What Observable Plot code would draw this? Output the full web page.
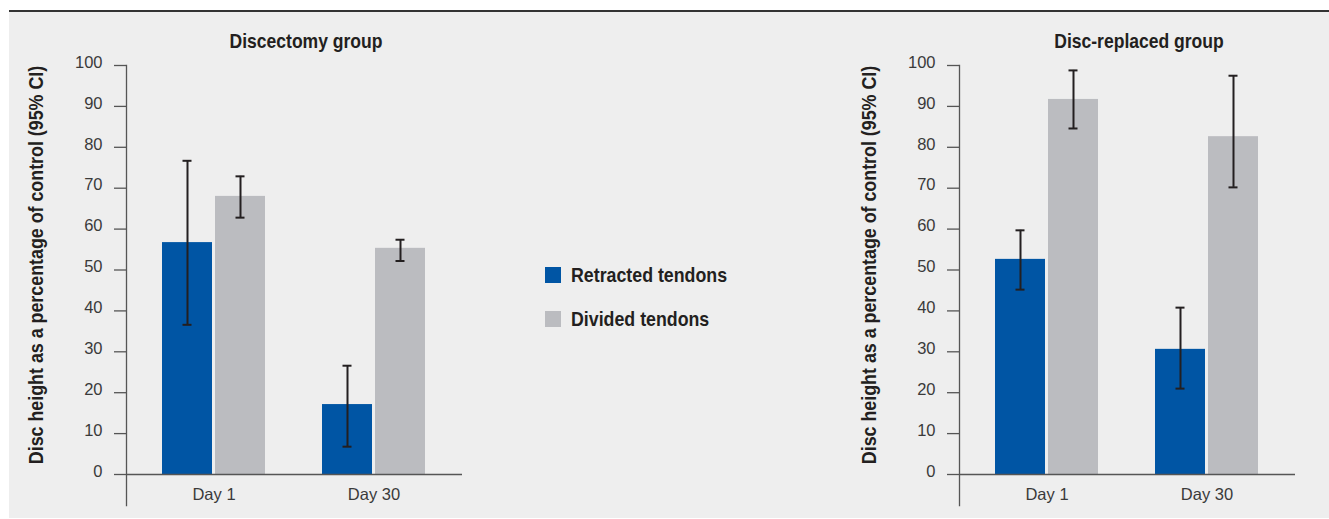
<!DOCTYPE html>
<html>
<head>
<meta charset="utf-8">
<script src="https://cdn.jsdelivr.net/npm/d3@7"></script>
<script src="https://cdn.jsdelivr.net/npm/@observablehq/plot@0.6"></script>
<style>
  html, body { margin: 0; padding: 0; background: #ffffff; }
  #wrap { position: relative; width: 1329px; height: 519px; overflow: hidden; }
  #panel { position: absolute; left: 9px; top: 11px; right: 0; bottom: 1px; background: #eeeeee; }
  #topline { position: absolute; left: 9px; top: 10px; right: 0; height: 1.5px; background: #333333; }
  .plot { position: absolute; top: 0; }
  .bold { font-family: "Liberation Sans", Arial, sans-serif; font-weight: bold; color: #231f20; white-space: nowrap; }
  .title { position: absolute; top: 30px; font-size: 20.5px; line-height: 21px;
    transform: translateX(-50%) scaleX(0.855); }
  .ylab { position: absolute; font-size: 20.5px; line-height: 20px;
    transform: translate(-50%, -50%) rotate(-90deg) scaleX(0.87); }
  .leg { position: absolute; left: 545px; font-size: 20.5px; line-height: 20px; }
  .sw { position: absolute; width: 16px; height: 16px; left: 0; }
  .lt { position: absolute; left: 26px; top: -2px; transform: scaleX(0.867); transform-origin: 0 50%; }
</style>
</head>
<body>
<div id="wrap">
  <div id="panel"></div>
  <div id="topline"></div>
</div>
<script>
// ---- data ----
const days = ["Day 1", "Day 30"];
const seriesNames = ["Retracted tendons", "Divided tendons"];
const seriesColors = ["#0055a4", "#bbbcc0"];
const yTicks = [0, 10, 20, 30, 40, 50, 60, 70, 80, 90, 100];
const panelTitles = ["Discectomy group", "Disc-replaced group"];
const yLabel = "Disc height as a percentage of control (95% CI)";

// Discectomy group
const discRetracted   = [56.7, 17.1];
const discRetractedLo = [36.6, 6.8];
const discRetractedHi = [76.7, 26.6];
const discDivided     = [68.0, 55.3];
const discDividedLo   = [62.8, 52.2];
const discDividedHi   = [72.9, 57.4];

// Disc-replaced group
const replRetracted   = [52.6, 30.6];
const replRetractedLo = [45.2, 21.0];
const replRetractedHi = [59.7, 40.8];
const replDivided     = [91.7, 82.6];
const replDividedLo   = [84.6, 70.2];
const replDividedHi   = [98.8, 97.5];

function rows(vals, lo, hi, s) {
  return days.map((d, i) => ({day: d, series: s, value: vals[i], lo: lo[i], hi: hi[i]}));
}

const panels = [
  {title: panelTitles[0], left: 0,
   data: [rows(discRetracted, discRetractedLo, discRetractedHi, seriesNames[0]),
          rows(discDivided, discDividedLo, discDividedHi, seriesNames[1])]},
  {title: panelTitles[1], left: 833,
   data: [rows(replRetracted, replRetractedLo, replRetractedHi, seriesNames[0]),
          rows(replDivided, replDividedLo, replDividedHi, seriesNames[1])]}
];

const wrap = document.getElementById("wrap");
const errColor = "#231f20";
const axisColor = "#555555";

panels.forEach(p => {
  const [ret, div] = p.data;
  const chart = Plot.plot({
    width: 480,
    height: 519,
    marginLeft: 126,
    marginRight: 18,
    marginTop: 65,
    marginBottom: 45,
    style: {background: "transparent", fontFamily: "'Liberation Sans', sans-serif", fontSize: "16.5px", color: "#3a3a3a"},
    x: {domain: days, paddingInner: 0.356, paddingOuter: 0.228, align: 0.5},
    y: {domain: [0, 100]},
    marks: [
      Plot.barY(ret, {x: "day", y: "value", fill: seriesColors[0], insetRight: 53}),
      Plot.barY(div, {x: "day", y: "value", fill: seriesColors[1], insetLeft: 53}),
      Plot.ruleX(ret, {x: "day", y1: "lo", y2: "hi", stroke: errColor, strokeWidth: 2, dx: -26.5}),
      Plot.ruleX(div, {x: "day", y1: "lo", y2: "hi", stroke: errColor, strokeWidth: 2, dx: 26.5}),
      Plot.tickY(ret, {x: "day", y: "lo", stroke: errColor, strokeWidth: 2, insetLeft: 47, insetRight: 47, dx: -26.5}),
      Plot.tickY(ret, {x: "day", y: "hi", stroke: errColor, strokeWidth: 2, insetLeft: 47, insetRight: 47, dx: -26.5}),
      Plot.tickY(div, {x: "day", y: "lo", stroke: errColor, strokeWidth: 2, insetLeft: 47, insetRight: 47, dx: 26.5}),
      Plot.tickY(div, {x: "day", y: "hi", stroke: errColor, strokeWidth: 2, insetLeft: 47, insetRight: 47, dx: 26.5}),
      Plot.ruleY([0], {stroke: axisColor, strokeWidth: 1.3}),
      Plot.frame({anchor: "left", stroke: axisColor, strokeWidth: 1.3, insetBottom: -31}),
      Plot.axisY({ticks: yTicks, tickSize: 12, tickFormat: () => "", label: null, stroke: axisColor, strokeWidth: 1.3}),
      Plot.axisY({ticks: yTicks, tickSize: 0, tickPadding: 24, label: null, fill: "#3a3a3a", fontSize: 16.5, dy: -3}),
      Plot.axisX({tickSize: 0, tickPadding: 14, label: null, fill: "#3a3a3a", fontSize: 16.5})
    ]
  });
  chart.classList.add("plot");
  chart.style.left = p.left + "px";
  wrap.appendChild(chart);

  const t = document.createElement("div");
  t.className = "bold title";
  t.textContent = p.title;
  t.style.left = (p.left + 306) + "px";
  wrap.appendChild(t);

  const yl = document.createElement("div");
  yl.className = "bold ylab";
  yl.textContent = yLabel;
  yl.style.left = (p.left + 36) + "px";
  yl.style.top = "265px";
  wrap.appendChild(yl);
});

// legend
seriesNames.forEach((name, i) => {
  const g = document.createElement("div");
  g.className = "bold leg";
  g.style.top = (267 + i * 44) + "px";
  const sw = document.createElement("div");
  sw.className = "sw";
  sw.style.background = seriesColors[i];
  const lt = document.createElement("div");
  lt.className = "lt";
  lt.textContent = name;
  g.appendChild(sw);
  g.appendChild(lt);
  wrap.appendChild(g);
});
</script>
</body>
</html>
